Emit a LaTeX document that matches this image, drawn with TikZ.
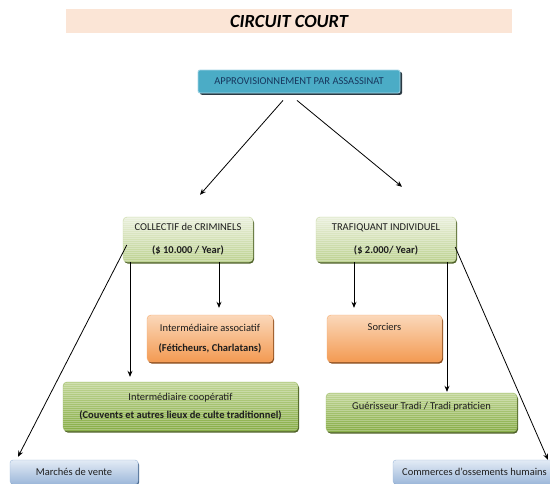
\documentclass[tikz,border=0pt]{standalone}
\usepackage{fontspec}
\setmainfont{Carlito}
\usetikzlibrary{shadows,arrows.meta}
\definecolor{peach}{HTML}{FBE5D6}
\definecolor{topblue}{HTML}{4BACC6}
\definecolor{topblueedge}{HTML}{A5D6E6}
\definecolor{navy}{HTML}{17375E}
\definecolor{shadowgray}{HTML}{2B3A44}
\definecolor{lgtop}{HTML}{EAF0DC}
\definecolor{lgbot}{HTML}{BCD18F}
\definecolor{mgtop}{HTML}{C0D595}
\definecolor{mgbot}{HTML}{86AC44}
\definecolor{gshadow}{HTML}{4F6228}
\definecolor{ortop}{HTML}{FBD8BA}
\definecolor{orbot}{HTML}{F39A52}
\definecolor{oshadow}{HTML}{8A4A1A}
\definecolor{bltop}{HTML}{E3EBF5}
\definecolor{blbot}{HTML}{9DB8DA}
\definecolor{bshadow}{HTML}{4A6A90}
\definecolor{txt}{HTML}{1E1E1E}
\begin{document}
\begin{tikzpicture}[x=1pt,y=-1pt,
  every node/.style={font=\fontsize{10.5}{12.6}\selectfont, text=txt, inner sep=0pt, align=center},
  box/.style={rounded corners=4pt, drop shadow={shadow xshift=1pt, shadow yshift=-1.6pt, opacity=1, fill=#1}},
  stripes/.style={path picture={\foreach \i in {1,3,...,61}{\draw[white,opacity=0.28,line width=0.6pt] ([yshift=-\i pt]path picture bounding box.north west) -- ([yshift=-\i pt]path picture bounding box.north east);}}},
  lgreen/.style={box=gshadow, top color=lgtop, bottom color=lgbot, draw=lgbot!80!white, line width=0.4pt, stripes},
  mgreen/.style={box=gshadow, top color=mgtop, bottom color=mgbot, draw=mgbot!80!white, line width=0.4pt, stripes},
  orangebox/.style={box=oshadow, top color=ortop, bottom color=orbot, draw=orbot!80!white, line width=0.4pt},
  lblue/.style={box=bshadow, rounded corners=3pt, top color=bltop, bottom color=blbot, draw=blbot, line width=0.4pt},
  topbox/.style={rounded corners=2pt, fill=topblue, draw=topblueedge, line width=0.8pt, text=navy,
     drop shadow={shadow xshift=2pt, shadow yshift=-1.8pt, opacity=1, fill=shadowgray}},
  arr/.style={-{Stealth[length=6pt,width=5pt]}, line width=0.8pt, black}
]
\useasboundingbox (0,0) rectangle (550,483);
\fill[white] (0,0) rectangle (550,483);

\node[fill=peach, minimum width=446pt, minimum height=24pt] (title) at (289,21)
  {\fontsize{18.5}{21}\selectfont\bfseries\itshape\color{black}CIRCUIT COURT};

\node[topbox, minimum width=202pt, minimum height=23pt] (A) at (299,81.5) {APPROVISIONNEMENT PAR ASSASSINAT};

\node[lgreen, minimum width=130pt, minimum height=45pt] (C) at (188,239.5) {COLLECTIF de CRIMINELS\\[10.5pt]\textbf{(\$ 10.000 / Year)}};
\node[lgreen, minimum width=140pt, minimum height=45pt] (T) at (386,239.5) {TRAFIQUANT INDIVIDUEL\\[10.5pt]\textbf{(\$ 2.000/ Year)}};

\node[orangebox, minimum width=126pt, minimum height=47pt] (O) at (210,338.5) {Intermédiaire associatif\\[7.5pt]\textbf{(Féticheurs, Charlatans)}};
\node[orangebox, minimum width=115pt, minimum height=47pt, text height=15.5pt, text depth=31.5pt] (S) at (384.5,338.5) {Sorciers};

\node[mgreen, minimum width=235pt, minimum height=49pt] (K) at (180.5,406.5) {Intermédiaire coopératif\\[5.5pt]\textbf{(Couvents et autres lieux de culte traditionnel)}};
\node[mgreen, minimum width=191pt, minimum height=39pt, text height=16.5pt, text depth=22.5pt] (G) at (421.5,412.5) {Guérisseur Tradi / Tradi praticien};

\node[lblue, minimum width=128pt, minimum height=24pt] (M) at (74,472) {Marchés de vente};
\node[lblue, minimum width=163pt, minimum height=24pt] (Co) at (474.5,472) {Commerces d’ossements humains};

\draw[arr] ([xshift=-16pt,yshift=-7pt]A.south) -- ([xshift=12pt,yshift=22pt]C.north);
\draw[arr] ([xshift=-2pt,yshift=-7pt]A.south) -- ([xshift=16pt,yshift=30pt]T.north);
\draw[arr] ([xshift=31pt]C.south) -- ([xshift=9pt,yshift=7pt]O.north);
\draw[arr] ([xshift=-58pt]C.south) -- ([xshift=-50.5pt,yshift=5pt]K.north);
\draw[arr] ([xshift=-32pt]T.south) -- ([xshift=-30.5pt,yshift=7pt]S.north);
\draw[arr] ([xshift=61pt]T.south) -- ([xshift=25.5pt,yshift=1pt]G.north);
\draw[arr] ([xshift=4pt,yshift=-5.5pt]C.west) -- ([xshift=-56pt,yshift=3pt]M.north);
\draw[arr] ([xshift=-1pt,yshift=-7.5pt]T.east) -- ([xshift=73.5pt,yshift=0pt]Co.north);
\end{tikzpicture}
\end{document}
